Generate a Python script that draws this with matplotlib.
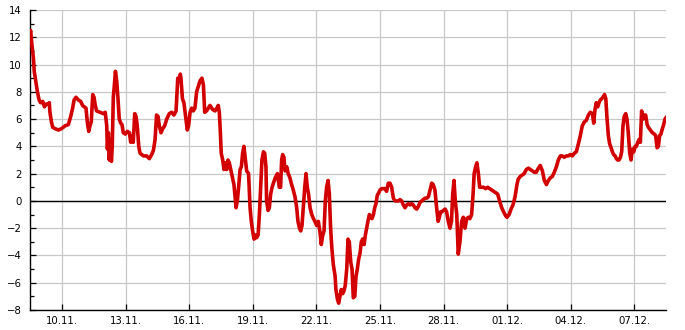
import matplotlib
matplotlib.use("Agg")
import matplotlib.pyplot as plt
from matplotlib.ticker import MultipleLocator

# zeit in tagen ab 08.11. 00:00, temperatur in grad C
days = [
    0.49, 0.52, 0.57, 0.65, 0.69, 0.76, 0.84, 0.92, 0.99, 1.09, 1.17, 1.25, 1.32, 1.40, 1.43,
    1.50, 1.56, 1.67, 1.83, 1.98, 2.14, 2.30, 2.41, 2.50, 2.57, 2.66, 2.77, 2.88, 2.97, 3.05,
    3.13, 3.20, 3.26, 3.32, 3.38, 3.45, 3.51, 3.57, 3.63, 3.79, 3.95, 4.04, 4.11, 4.14, 4.19,
    4.23, 4.28, 4.33, 4.37, 4.42, 4.47, 4.52, 4.58, 4.64, 4.70, 4.77, 4.83, 4.89, 4.99, 5.08,
    5.18, 5.24, 5.32, 5.36, 5.43, 5.49, 5.55, 5.62, 5.68, 5.84, 5.99, 6.12, 6.23, 6.31, 6.39,
    6.46, 6.53, 6.59, 6.67, 6.75, 6.84, 6.94, 7.06, 7.17, 7.28, 7.38, 7.46, 7.53, 7.58, 7.61,
    7.68, 7.75, 7.83, 7.91, 7.97, 8.04, 8.12, 8.19, 8.27, 8.35, 8.43, 8.51, 8.60, 8.67, 8.73,
    8.82, 8.90, 8.98, 9.11, 9.22, 9.30, 9.37, 9.42, 9.47, 9.51, 9.58, 9.64, 9.70, 9.77, 9.83,
    9.89, 10.00, 10.11, 10.21, 10.27, 10.33, 10.40, 10.46, 10.52, 10.58, 10.65, 10.71, 10.80, 10.87, 10.93,
    10.99, 11.06, 11.12, 11.18, 11.25, 11.31, 11.37, 11.43, 11.50, 11.56, 11.62, 11.65, 11.72, 11.78, 11.84,
    11.91, 11.97, 12.06, 12.16, 12.25, 12.31, 12.36, 12.41, 12.47, 12.52, 12.60, 12.67, 12.75, 12.83, 12.91,
    12.99, 13.07, 13.13, 13.20, 13.26, 13.32, 13.38, 13.45, 13.51, 13.57, 13.63, 13.70, 13.78, 13.86, 13.93,
    14.01, 14.09, 14.17, 14.23, 14.30, 14.36, 14.42, 14.48, 14.55, 14.61, 14.67, 14.73, 14.80, 14.88, 14.92,
    14.99, 15.05, 15.11, 15.17, 15.24, 15.30, 15.36, 15.43, 15.49, 15.55, 15.62, 15.68, 15.74, 15.81, 15.87,
    15.93, 15.99, 16.06, 16.12, 16.18, 16.25, 16.31, 16.37, 16.43, 16.50, 16.56, 16.62, 16.69, 16.75, 16.81,
    16.87, 16.94, 17.00, 17.08, 17.16, 17.23, 17.31, 17.39, 17.47, 17.55, 17.63, 17.71, 17.79, 17.87, 17.94,
    18.02, 18.10, 18.18, 18.26, 18.34, 18.42, 18.49, 18.57, 18.65, 18.73, 18.81, 18.89, 18.97, 19.04, 19.12,
    19.20, 19.28, 19.36, 19.44, 19.51, 19.59, 19.67, 19.74, 19.80, 19.86, 19.92, 19.99, 20.07, 20.14, 20.22,
    20.30, 20.37, 20.43, 20.49, 20.55, 20.62, 20.69, 20.77, 20.85, 20.93, 21.01, 21.09, 21.17, 21.24, 21.32,
    21.39, 21.44, 21.51, 21.57, 21.64, 21.70, 21.80, 21.89, 21.98, 22.08, 22.17, 22.27, 22.36, 22.46, 22.55,
    22.64, 22.74, 22.83, 22.93, 22.99, 23.09, 23.18, 23.27, 23.37, 23.46, 23.52, 23.62, 23.71, 23.80, 23.90,
    24.00, 24.09, 24.19, 24.28, 24.37, 24.47, 24.56, 24.66, 24.75, 24.85, 24.94, 25.04, 25.13, 25.22, 25.32,
    25.41, 25.51, 25.60, 25.69, 25.79, 25.88, 25.98, 26.07, 26.17, 26.26, 26.36, 26.45, 26.54, 26.64, 26.73,
    26.83, 26.92, 27.02, 27.08, 27.14, 27.20, 27.27, 27.33, 27.39, 27.46, 27.52, 27.59, 27.65, 27.71, 27.77,
    27.83, 27.90, 27.96, 28.02, 28.09, 28.15, 28.21, 28.27, 28.34, 28.40, 28.46, 28.52, 28.59, 28.65, 28.71,
    28.78, 28.84, 28.90, 28.97, 29.03, 29.09, 29.16, 29.22, 29.28, 29.34, 29.41, 29.47, 29.53, 29.60, 29.66,
    29.75, 29.85, 29.94, 30.00, 30.07, 30.13, 30.19, 30.25, 30.32, 30.38, 30.44, 30.49,
]
temps = [
    12.3, 12.5, 11.6, 10.5, 9.5, 8.8, 8.0, 7.4, 7.2, 7.3, 6.9, 7.1, 7.1, 7.2, 6.5,
    5.8, 5.4, 5.3, 5.2, 5.3, 5.5, 5.6, 6.2, 6.8, 7.4, 7.6, 7.4, 7.3, 7.0, 6.9,
    6.8, 5.7, 5.1, 5.5, 5.8, 7.8, 7.6, 7.0, 6.6, 6.5, 6.4, 6.5, 5.5, 3.8, 5.0,
    3.0, 4.5, 2.9, 4.0, 7.6, 8.5, 9.5, 8.8, 7.5, 6.0, 5.7, 5.6, 5.0, 4.9, 5.1,
    5.0, 4.3, 4.8, 4.3, 6.4, 6.2, 5.5, 4.0, 3.5, 3.3, 3.3, 3.1, 3.4, 3.7, 4.5,
    6.3, 6.2, 5.5, 5.0, 5.3, 5.5, 6.0, 6.4, 6.5, 6.3, 6.6, 9.0, 8.8, 9.3, 9.0,
    7.5, 7.2, 6.2, 5.2, 5.5, 6.5, 6.8, 6.6, 6.8, 8.0, 8.4, 8.8, 9.0, 8.5, 6.5,
    6.6, 6.8, 7.0, 6.7, 6.6, 6.8, 7.0, 6.5, 5.0, 3.5, 3.0, 2.3, 2.8, 2.3, 3.0,
    2.8, 2.0, 1.2, -0.5, 0.0, 1.0, 2.3, 2.5, 3.5, 4.0, 3.0, 2.2, 2.0, -0.5, -1.5,
    -2.2, -2.8, -2.5, -2.7, -2.5, -1.0, 1.0, 3.0, 3.6, 3.5, 2.5, 0.0, -0.7, -0.5, 0.5,
    1.0, 1.3, 1.7, 2.0, 1.0, 1.0, 3.0, 3.4, 3.2, 2.2, 2.5, 2.0, 1.7, 1.2, 0.8,
    0.3, -0.5, -1.5, -2.0, -2.2, -1.8, -0.5, 1.0, 2.0, 1.0, 0.5, -0.5, -1.0, -1.3, -1.5,
    -1.8, -1.5, -2.3, -3.2, -2.5, -2.2, 0.0, 1.0, 1.5, 0.5, -2.0, -3.5, -4.7, -5.5, -6.5,
    -7.2, -7.5, -7.0, -6.5, -6.8, -6.6, -6.2, -5.0, -2.8, -3.0, -4.5, -5.0, -7.1, -7.0, -5.5,
    -5.0, -4.3, -3.8, -3.0, -2.8, -3.2, -2.5, -2.0, -1.5, -1.0, -1.2, -1.3, -1.0, -0.5, -0.2,
    0.4, 0.6, 0.8, 0.9, 0.9, 0.9, 0.7, 1.3, 1.3, 1.0, 0.2, 0.0, 0.0, 0.0, 0.1,
    0.0, -0.3, -0.5, -0.3, -0.2, -0.3, -0.2, -0.3, -0.5, -0.6, -0.4, -0.1, 0.0, 0.1, 0.2,
    0.2, 0.3, 0.8, 1.3, 1.2, 0.8, -0.5, -1.5, -1.2, -0.8, -0.8, -0.7, -0.6, -0.8, -1.5,
    -2.0, -1.5, 0.5, 1.5, 0.0, -1.0, -3.9, -3.0, -1.5, -1.2, -2.0, -1.3, -1.2, -1.3, -1.0,
    0.5, 2.0, 2.5, 2.8, 2.0, 1.0, 1.0, 1.0, 0.9, 1.0, 0.9, 0.8, 0.7, 0.6, 0.5,
    0.0, -0.5, -0.8, -1.1, -1.2, -1.0, -0.6, -0.3, 0.3, 1.2, 1.6, 1.8, 1.9, 2.0, 2.3,
    2.4, 2.3, 2.2, 2.1, 2.1, 2.4, 2.6, 2.2, 1.5, 1.2, 1.5, 1.7, 1.8, 2.1, 2.5,
    3.0, 3.3, 3.3, 3.2, 3.3, 3.3, 3.4, 3.3, 3.5, 3.6, 4.2, 4.8, 5.5, 5.8, 5.9,
    6.3, 6.5, 6.4, 5.7, 6.7, 7.2, 6.9, 7.2, 7.4, 7.5, 7.6, 7.8, 7.5, 6.0, 4.8,
    4.2, 3.9, 3.6, 3.4, 3.3, 3.1, 3.0, 3.0, 3.2, 3.6, 5.5, 6.2, 6.4, 6.0, 5.0,
    3.5, 3.0, 3.8, 3.6, 4.0, 4.0, 4.3, 4.5, 4.3, 6.6, 6.0, 6.3, 6.3, 5.6, 5.4,
    5.2, 5.0, 4.9, 4.8, 3.9, 4.0, 4.8, 4.9, 5.3, 5.6, 6.0, 6.1,
]

tick_days = [2, 5, 8, 11, 14, 17, 20, 23, 26, 29]
tick_labels = ["10.11.", "13.11.", "16.11.", "19.11.", "22.11.", "25.11.",
               "28.11.", "01.12.", "04.12.", "07.12."]

fig = plt.figure(figsize=(6.85, 3.30), dpi=100)
ax = fig.add_axes([30 / 685, 20 / 330, 636 / 685, 300 / 330])

ax.plot(days, temps, color="#d20000", linewidth=2.6, zorder=3)
ax.axhline(0, color="black", linewidth=1.0, zorder=2)

ax.set_xlim(days[0], days[-1])
ax.set_ylim(-8, 14)
ax.set_xticks(tick_days)
ax.set_xticklabels(tick_labels)
ax.yaxis.set_major_locator(MultipleLocator(2))
ax.yaxis.set_minor_locator(MultipleLocator(1))

ax.grid(True, which="major", color="#c8c8c8", linewidth=0.9)
ax.set_axisbelow(True)

for s in ["top", "right"]:
    ax.spines[s].set_visible(False)
for s in ["left", "bottom"]:
    ax.spines[s].set_color("black")
    ax.spines[s].set_linewidth(1.0)

ax.tick_params(axis="both", which="major", direction="in", length=4, width=0.9,
               labelsize=7.3, colors="black")
ax.tick_params(axis="y", which="major", pad=6)
ax.tick_params(axis="x", which="major", pad=4)
ax.tick_params(axis="y", which="minor", direction="in", length=3, width=0.9)

fig.savefig("out.png", dpi=100)
